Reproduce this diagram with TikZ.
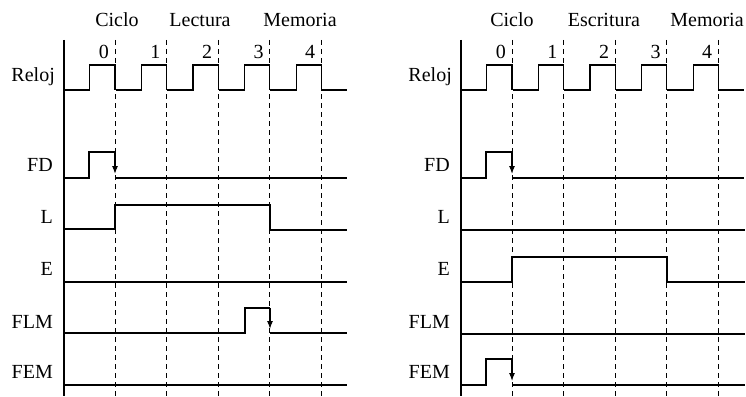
\documentclass[tikz,border=0pt]{standalone}
\usepackage{fontspec}
\setmainfont{Liberation Serif}
\usetikzlibrary{arrows.meta}

\begin{document}
\begin{tikzpicture}[x=1pt,y=-1pt,font=\fontsize{20}{22}\selectfont,
  sig/.style={line width=1.1pt},
  grid/.style={line width=0.9pt, dash pattern=on 5pt off 4pt},
  signame/.style={anchor=east, inner sep=0pt},
  num/.style={anchor=east, inner sep=0pt},
  fall/.style={sig, -{Latex[length=8pt,width=6pt]}}]
\useasboundingbox (0,0) rectangle (746,396);
% common parts of both panels
\foreach \s in {0,397}{
  \draw[line width=1.3pt] (64+\s,40) -- (64+\s,396);
  \foreach \k in {0,...,4}{
    \draw[grid] (115+\s+51.6*\k,40) -- (115+\s+51.6*\k,396);
    \node[num] (n\k\s) at (109+\s+51.6*\k,52) {\k};
    \draw[sig] (64+\s+51.6*\k,90) -- (89.8+\s+51.6*\k,90) -- (89.8+\s+51.6*\k,65) -- (115+\s+51.6*\k,65) -- (115+\s+51.6*\k,90);
  }
  \draw[sig] (321.4+\s,90) -- (347+\s,90);
  \node[signame] (reloj\s) at (55+\s,77) {Reloj};
  \node[signame] (fd\s) at (53+\s,165) {FD};
  \node[signame] (l\s) at (53+\s,217) {L};
  \node[signame] (e\s) at (53+\s,269) {E};
  \node[signame] (flm\s) at (53+\s,322) {FLM};
  \node[signame] (fem\s) at (53+\s,372) {FEM};
  % FD pulse
  \draw[sig] (64+\s,178) -- (89+\s,178) -- (89+\s,152) -- (115+\s,152);
  \draw[fall] (115+\s,152) -- (115+\s,174);
  \draw[sig] (115+\s,178) -- (347+\s,178);
}
% lectura
\node (cicloL) at (117,20) {Ciclo};
\node (lectura) at (200,20) {Lectura};
\node (memoriaL) at (300,20) {Memoria};
\draw[sig] (64,229) -- (115,229) -- (115,205) -- (270,205) -- (270,230) -- (347,230);
\draw[sig] (64,282) -- (347,282);
\draw[sig] (64,333) -- (245,333) -- (245,308) -- (270,308);
\draw[fall] (270,308) -- (270,329);
\draw[sig] (270,333) -- (347,333);
\draw[sig] (64,385) -- (347,385);
% escritura
\node (cicloE) at (512,20) {Ciclo};
\node (escritura) at (604,20) {Escritura};
\node (memoriaE) at (707,20) {Memoria};
\draw[sig] (461,230) -- (745,230);
\draw[sig] (461,282) -- (512,282) -- (512,257) -- (667,257) -- (667,282) -- (745,282);
\draw[sig] (461,334) -- (745,334);
\draw[sig] (461,385) -- (486,385) -- (486,359) -- (512,359);
\draw[fall] (512,359) -- (512,381);
\draw[sig] (512,385) -- (745,385);
\end{tikzpicture}
\end{document}
